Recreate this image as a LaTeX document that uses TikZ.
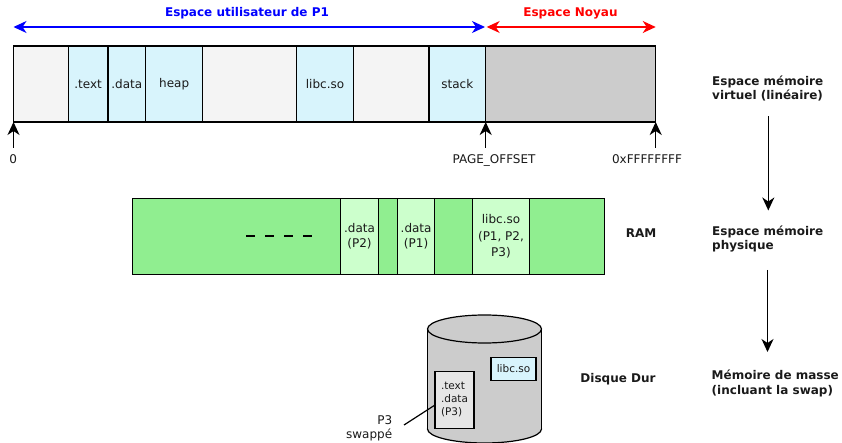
\documentclass[tikz,border=0pt]{standalone}
\usepackage{fontspec}
\setmainfont{DejaVu Sans}
\usetikzlibrary{arrows.meta}
\definecolor{cellgray}{HTML}{F4F4F4}
\definecolor{cellblue}{HTML}{D8F4FC}
\definecolor{kgray}{HTML}{CCCCCC}
\definecolor{ramgreen}{HTML}{90EE90}
\definecolor{ramlight}{HTML}{CCFFCC}
\definecolor{p3gray}{HTML}{E6E6E6}
\definecolor{txt}{HTML}{1A1A1A}
\begin{document}
\begin{tikzpicture}[x=1pt,y=-1pt,
  every node/.style={font=\fontsize{12}{14.5}\selectfont, text=txt},
  cellbox/.style={draw, line width=1.2pt, inner sep=0pt, outer sep=0pt, anchor=north west, minimum height=76pt, align=center},
  boldlbl/.style={font=\fontsize{12}{14.5}\selectfont\bfseries},
  tip/.style={-{Stealth[length=13pt,width=12pt,inset=4pt]}, line width=1.5pt},
  dbltip/.style={{Stealth[length=13pt,width=12pt,inset=4pt]}-{Stealth[length=13pt,width=12pt,inset=4pt]}, line width=1.5pt},
  smallbox/.style={draw, line width=1.2pt, inner sep=0pt, outer sep=0pt, font=\fontsize{10.5}{13}\selectfont}
]
\useasboundingbox (0,0) rectangle (842,443);

% virtual address space
\node[cellbox, fill=cellgray, minimum width=54.8pt] (c1) at (13.5,46) {};
\node[cellbox, fill=cellblue, minimum width=39.7pt] (c2) at (68.3,46) {.text};
\node[cellbox, fill=cellblue, minimum width=37.7pt] (c3) at (108,46) {.data};
\node[cellbox, fill=cellblue, minimum width=57pt] (c4) at (145.7,46) {heap};
\node[cellbox, fill=cellgray, minimum width=94pt] (c5) at (202.7,46) {};
\node[cellbox, fill=cellblue, minimum width=56.6pt] (c6) at (296.7,46) {libc.so};
\node[cellbox, fill=cellgray, minimum width=75.7pt] (c7) at (353.3,46) {};
\node[cellbox, fill=cellblue, minimum width=56.7pt] (c8) at (429,46) {stack};
\node[cellbox, fill=kgray, minimum width=170pt] (c9) at (485.7,46) {};

% titles and range arrows
\node[boldlbl, text=blue] (tuser) at (247,13) {Espace utilisateur de P1};
\node[boldlbl, text=red] (tkern) at (570.5,13) {Espace Noyau};
\coordinate (ul) at (13.5,27);
\coordinate (um1) at (485,27);
\coordinate (um2) at (486.7,27);
\coordinate (ur) at (655.7,27);
\draw[dbltip, blue, line width=1.2pt] (ul) -- (um1);
\draw[dbltip, red, line width=1.2pt] (um2) -- (ur);

% address ticks
\node[anchor=base] (l0) at (13.3,163.3) {0};
\node[anchor=base] (lpo) at (494,163.3) {PAGE\_OFFSET};
\node[anchor=base] (lff) at (647,163.3) {0xFFFFFFFF};
\coordinate (t0) at (13.5,148);
\coordinate (t1) at (485.7,148);
\coordinate (t2) at (655.7,148);
\draw[tip] (t0) -- (c1.south west);
\draw[tip] (t1) -- (c9.south west);
\draw[tip] (t2) -- (c9.south east);

% RAM
\node[cellbox, fill=ramgreen, minimum width=208.2pt] (r1) at (132.3,198.3) {};
\node[cellbox, fill=ramlight, minimum width=38pt, font=\fontsize{12}{15.5}\selectfont] (r2) at (340.5,198.3) {.data\\(P2)};
\node[cellbox, fill=ramgreen, minimum width=19pt] (r3) at (378.5,198.3) {};
\node[cellbox, fill=ramlight, minimum width=37.2pt, font=\fontsize{12}{15.5}\selectfont] (r4) at (397.5,198.3) {.data\\(P1)};
\node[cellbox, fill=ramgreen, minimum width=38pt] (r5) at (434.7,198.3) {};
\node[cellbox, fill=ramlight, minimum width=56.6pt, font=\fontsize{12}{16.5}\selectfont] (r6) at (472.7,198.3) {libc.so\\(P1, P2,\\P3)};
\node[cellbox, fill=ramgreen, minimum width=75pt] (r7) at (529.3,198.3) {};
\draw[line width=2pt, dash pattern=on 9pt off 10pt] (246,236) -- (312,236);
\node[boldlbl] (lram) at (641,233) {RAM};

% disk
\filldraw[fill=kgray, line width=1.2pt] (484.5,429) ellipse [x radius=57, y radius=14];
\fill[kgray] (427.5,329) rectangle (541.5,429);
\draw[line width=1.2pt] (427.5,329) -- (427.5,429);
\draw[line width=1.2pt] (541.5,329) -- (541.5,429);
\filldraw[fill=kgray, line width=1.2pt] (484.5,329) ellipse [x radius=57, y radius=14];
\node[smallbox, fill=p3gray, minimum width=39pt, minimum height=57pt, align=left] (p3box) at (454.5,400) {.text\\.data\\(P3)};
\node[smallbox, fill=cellblue, minimum width=45pt, minimum height=23pt] (libbox) at (513.5,369) {libc.so};
\node[anchor=east, align=right] (p3lbl) at (395.7,428.5) {P3\\swappé};
\coordinate (lead) at (404,425);
\draw[line width=1.2pt] (lead) -- (p3box.west |- 0,405);
\node[boldlbl] (ldisk) at (618,379) {Disque Dur};

% right column
\node[boldlbl, anchor=west, align=left] (lvirt) at (708.7,88.3) {Espace mémoire\\virtuel (linéaire)};
\node[boldlbl, anchor=west, align=left] (lphys) at (708.7,239) {Espace mémoire\\physique};
\node[boldlbl, anchor=west, align=left] (lmass) at (708.2,383.5) {Mémoire de masse\\(incluant la swap)};
\coordinate (a1s) at (768.3,116.5);
\coordinate (a1e) at (768.3,210.5);
\coordinate (a2s) at (767.5,270);
\coordinate (a2e) at (767.5,352);
\draw[tip] (a1s) -- (a1e);
\draw[tip] (a2s) -- (a2e);
\end{tikzpicture}
\end{document}
